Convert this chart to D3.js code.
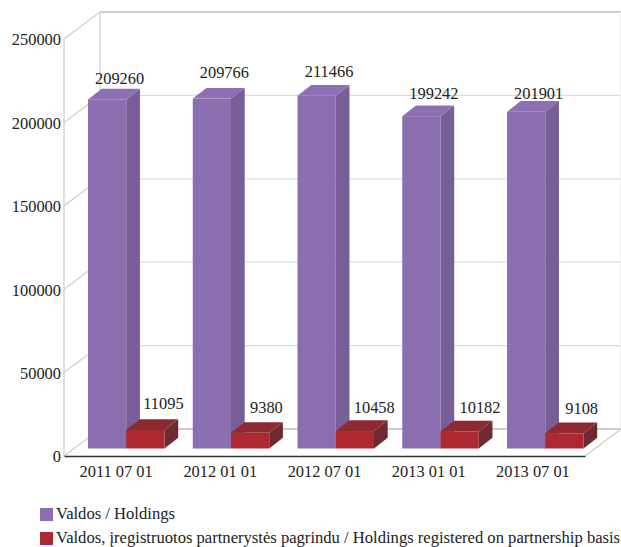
<!DOCTYPE html>
<html>
<head>
<meta charset="utf-8">
<script src="https://cdn.jsdelivr.net/npm/d3@7"></script>
<style>
    html, body { margin: 0; padding: 0; background: #fff; }
    svg { display: block; }
    text { font-family: "Liberation Serif", serif; fill: #222; }
</style>
</head>
<body>
<div id="chart"></div>
<script>
const dates = ["2011 07 01", "2012 01 01", "2012 07 01", "2013 01 01", "2013 07 01"];
const holdings = [209260, 209766, 211466, 199242, 201901];
const partnership = [11095, 9380, 10458, 10182, 9108];
const yTicks = [0, 50000, 100000, 150000, 200000, 250000];
const legendLabels = [
    "Valdos / Holdings",
    "Valdos, įregistruotos partnerystės pagrindu / Holdings registered on partnership basis"
];

const width = 621;
const height = 547;
const margin = { top: 39, right: 36, bottom: 91, left: 64 };
const plotRight = width - margin.right;
const plotBottom = height - margin.bottom;

// how far the back wall sits from the front plane
const wall = { dx: 36, dy: -27 };
// bars stand a bit in front of the back wall
const barDepth = { dx: 13.7, dy: -10.7 };
const barLift = 7.5;

// the original labels were placed by hand, so they don't sit evenly
const holdingNudgeY = [-1, -6, -4, -2, 2];
const partnerNudgeX = [-2, 0, -1, 0, 1];
const partnerNudgeY = [-1, 0, 2, 1, 0];

const y = d3.scaleLinear().domain([0, 250000]).range([plotBottom, margin.top]);
const slots = d3.scaleBand().domain(dates).range([margin.left, plotRight]);
const groups = d3.scaleBand().domain(dates).range([88, 583.5]).paddingInner(0.27);
const inner = d3.scaleBand().domain(["holdings", "partnership"]).range([0, groups.bandwidth()]);

const series = [
    { key: "holdings", values: holdings, front: "#8a6eb0", top: "#8c70b3", side: "#775e97" },
    { key: "partnership", values: partnership, front: "#ad2831", top: "#8d2a30", side: "#6e2a2e" }
];

const svg = d3.select("#chart").append("svg")
    .attr("width", width)
    .attr("height", height);

// back wall + left wall grid
const grid = svg.append("g").attr("class", "grid").attr("fill", "none");
grid.selectAll("line.back")
    .data(yTicks)
    .join("line")
    .attr("class", "back")
    .attr("x1", margin.left + wall.dx)
    .attr("x2", width)
    .attr("y1", d => y(d) + wall.dy)
    .attr("y2", d => y(d) + wall.dy)
    .attr("stroke", d => (d === 0 || d === 250000) ? "#cfcfcf" : "#dcdcdc")
    .attr("stroke-width", d => (d === 0 || d === 250000) ? 2 : 1.3);
grid.selectAll("line.diag")
    .data(yTicks)
    .join("line")
    .attr("class", "diag")
    .attr("x1", margin.left)
    .attr("x2", margin.left + wall.dx)
    .attr("y1", d => y(d))
    .attr("y2", d => y(d) + wall.dy)
    .attr("stroke", "#cfcfcf")
    .attr("stroke-width", 1.2);
grid.append("line")
    .attr("x1", margin.left).attr("x2", margin.left)
    .attr("y1", y(250000)).attr("y2", y(0))
    .attr("stroke", "#cfcfcf").attr("stroke-width", 1.3);
grid.append("line")
    .attr("x1", margin.left + wall.dx).attr("x2", margin.left + wall.dx)
    .attr("y1", y(250000) + wall.dy).attr("y2", y(0) + wall.dy)
    .attr("stroke", "#cfcfcf").attr("stroke-width", 1.3);
grid.append("line")
    .attr("x1", width - 0.5).attr("x2", width - 0.5)
    .attr("y1", y(250000) + wall.dy).attr("y2", y(0) + wall.dy)
    .attr("stroke", "#eeeeee");
// floor edge on the right
grid.append("line")
    .attr("x1", plotRight).attr("x2", plotRight + wall.dx)
    .attr("y1", y(0)).attr("y2", y(0) + wall.dy)
    .attr("stroke", "#b5b5b5").attr("stroke-width", 1);

// axes
const yAxis = d3.axisLeft(y).tickValues(yTicks).tickSize(0).tickPadding(3).tickFormat(d3.format("d"));
const yG = svg.append("g").attr("transform", `translate(${margin.left},0.7)`).call(yAxis);
yG.select(".domain").remove();
yG.selectAll("text").style("font-family", '"Liberation Serif", serif').style("font-size", "16.4px").attr("fill", "#222");

const xAxis = d3.axisBottom(slots).tickSize(0).tickPadding(9);
const xG = svg.append("g").attr("transform", `translate(0,${plotBottom})`).call(xAxis);
xG.select(".domain").attr("stroke", "#333").attr("stroke-width", 1.3);
xG.selectAll("text").style("font-family", '"Liberation Serif", serif').style("font-size", "16.4px").attr("fill", "#222");

function barBase() {
    return y(0) - barLift;
}

// one 3d bar = front + top + side polygons
function drawBars(s) {
    const g = svg.append("g").attr("class", "bars-" + s.key);
    const rows = dates.map((date, i) => {
        const x0 = groups(date) + inner(s.key);
        const x1 = x0 + inner.bandwidth();
        const top = barBase() - (y(0) - y(s.values[i]));
        return { date, i, value: s.values[i], x0, x1, top, bottom: barBase() };
    });
    const pts = arr => arr.map(p => p.join(",")).join(" ");
    const bar = g.selectAll("g").data(rows).join("g");
    bar.append("polygon")
        .attr("fill", s.side)
        .attr("points", d => pts([[d.x1, d.top], [d.x1 + barDepth.dx, d.top + barDepth.dy],
            [d.x1 + barDepth.dx, d.bottom + barDepth.dy], [d.x1, d.bottom]]));
    bar.append("polygon")
        .attr("fill", s.top)
        .attr("points", d => pts([[d.x0, d.top], [d.x0 + barDepth.dx, d.top + barDepth.dy],
            [d.x1 + barDepth.dx, d.top + barDepth.dy], [d.x1, d.top]]));
    bar.append("rect")
        .attr("fill", s.front)
        .attr("x", d => d.x0)
        .attr("y", d => d.top)
        .attr("width", d => d.x1 - d.x0)
        .attr("height", d => d.bottom - d.top);
    return rows;
}

const holdingRows = drawBars(series[0]);
const partnerRows = drawBars(series[1]);

// value labels
svg.append("g").selectAll("text")
    .data(holdingRows)
    .join("text")
    .attr("x", d => (d.x0 + d.x1) / 2 + 12.5)
    .attr("y", d => d.top + barDepth.dy - 4 + holdingNudgeY[d.i])
    .attr("text-anchor", "middle")
    .style("font-size", "16.4px")
    .text(d => d.value);
svg.append("g").selectAll("text")
    .data(partnerRows)
    .join("text")
    .attr("x", d => d.x0 + 20 + partnerNudgeX[d.i] - 1)
    .attr("y", d => d.top + barDepth.dy - 9 + partnerNudgeY[d.i])
    .style("font-size", "16.4px")
    .text(d => d.value);

// legend
const legend = svg.append("g").attr("transform", "translate(40,508)");
const item = legend.selectAll("g")
    .data(legendLabels)
    .join("g")
    .attr("transform", (d, i) => `translate(0,${i * 24})`);
item.append("rect")
    .attr("width", 13)
    .attr("height", 13)
    .attr("fill", (d, i) => series[i].front);
item.append("text")
    .attr("x", 16)
    .attr("y", 10.5)
    .style("font-size", "16.6px")
    .text(d => d);
</script>
</body>
</html>
